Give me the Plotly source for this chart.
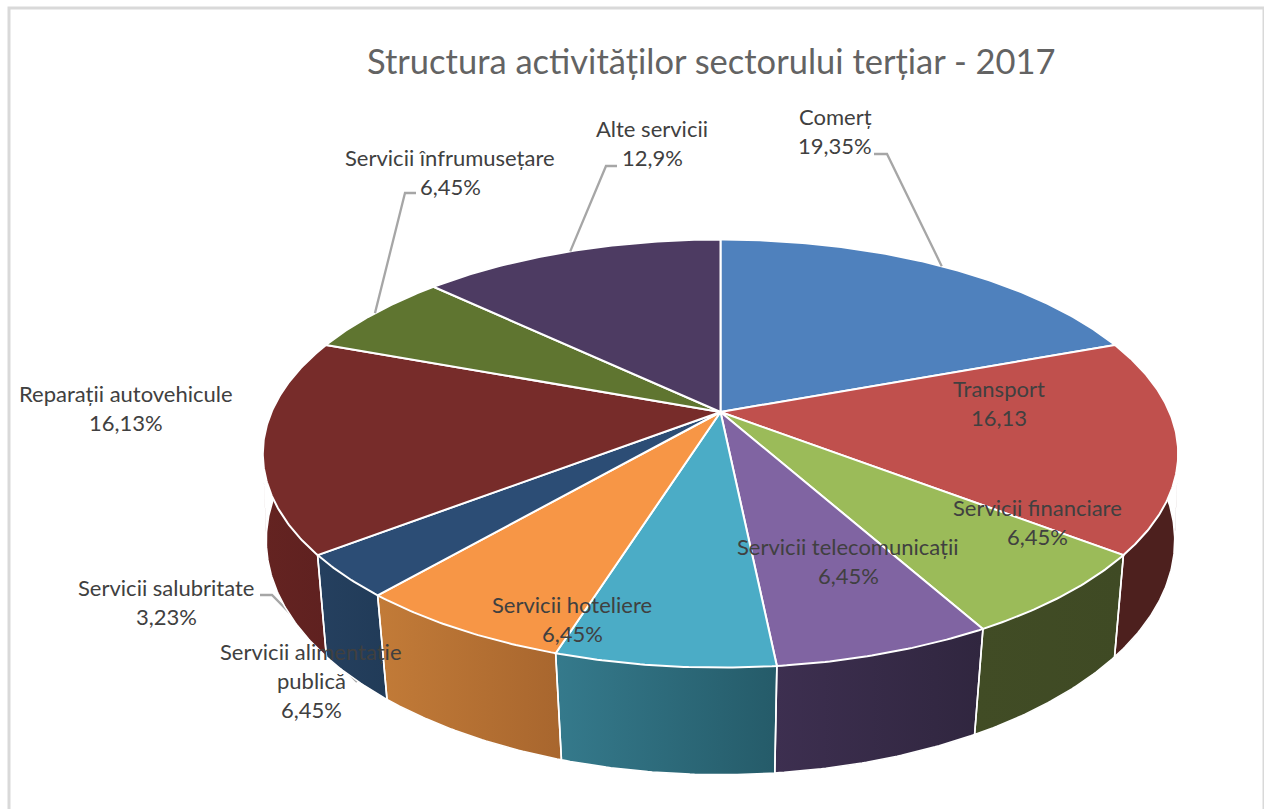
import math
import plotly.graph_objects as go

# ---- data ----
categories = ["Comerț", "Transport", "Servicii financiare", "Servicii telecomunicații",
              "Servicii hoteliere", "Servicii alimentație publică", "Servicii salubritate",
              "Reparații autovehicule", "Servicii înfrumusețare", "Alte servicii"]
values = [19.35, 16.13, 6.45, 6.45, 6.45, 6.45, 3.23, 16.13, 6.45, 12.9]
value_labels = ["19,35%", "16,13", "6,45%", "6,45%", "6,45%", "6,45%", "3,23%", "16,13%", "6,45%", "12,9%"]
title_text = "Structura activităților sectorului terțiar - 2017"

# ---- styles ----
top_colors = ["#4F81BD", "#C0504D", "#9BBB59", "#8064A2", "#4BACC6",
              "#F79646", "#2C4D75", "#772C2A", "#5F7530", "#4D3B62"]
wall_colors = [("#4D201E", "#4D201E"), ("#4D201E", "#4D201E"), ("#414C25", "#3F4A24"),
               ("#3D2F50", "#30263F"), ("#357A8C", "#255B69"), ("#C27B38", "#A8662E"),
               ("#25405F", "#213B58"), ("#642321", "#5F2120"), ("#642321", "#642321"),
               ("#2E2440", "#2E2440")]

label_pos = [(835, 116), (999, 388), (1037, 507), (848, 546), (572, 604),
             (311, 651), (166, 587), (126, 393), (450, 157), (652, 128)]
label_lines = [[c] for c in categories]
label_lines[5] = ["Servicii alimentație", "publică"]
LINE_H = 29.3
LABEL_SIZE = 22
TITLE_SIZE = 34.5
LABEL_FONT = "Lato"

# projection of the tilted pie: top face and bottom rim
CX, CY = 720.5, 412
A, B, K = 449, 206, 0.194
CY2, A2, B2, K2 = 501.6, 448, 228, 0.165


def top_pt(deg):
    t = math.radians(deg)
    yy = -math.cos(t)
    d = 1 - K * yy
    return CX + A * math.sin(t) / d, CY + B * yy / d


def bot_pt(deg):
    t = math.radians(deg)
    yy = -math.cos(t)
    d = 1 - K2 * yy
    return CX + A2 * math.sin(t) / d, CY2 + B2 * yy / d


def steps(a0, a1):
    n = max(2, int((a1 - a0) * 2))
    return [a0 + (a1 - a0) * i / n for i in range(n + 1)]


total = sum(values)
edges = [0]
for v in values:
    edges.append(edges[-1] + v / total * 360)
mids = [(edges[i] + edges[i + 1]) / 2 for i in range(len(values))]

fig = go.Figure()

# leader line going behind the walls
fig.add_trace(go.Scatter(x=[260, 272, 357], y=[595, 595, 682], mode="lines",
                         line=dict(color="#A6A6A6", width=2.3), hoverinfo="skip", showlegend=False))

# side walls: fill made of thin quads so the silhouette follows the rim-to-rim edges
for i in range(len(values)):
    angs = steps(edges[i], edges[i + 1])
    xs, ys = [], []
    for a0, a1 in zip(angs[:-1], angs[1:]):
        quad = [top_pt(a0), top_pt(a1), bot_pt(a1), bot_pt(a0), top_pt(a0)]
        xs += [p[0] for p in quad] + [None]
        ys += [p[1] for p in quad] + [None]
    fig.add_trace(go.Scatter(
        x=xs, y=ys, mode="lines", fill="toself", line=dict(color="rgba(0,0,0,0)", width=0),
        fillgradient=dict(type="horizontal",
                          colorscale=[[0, wall_colors[i][0]], [1, wall_colors[i][1]]]),
        hoverinfo="skip", showlegend=False))

# wall outlines: bottom rim and the vertical edges between slices
for i in range(len(values)):
    lo = [bot_pt(a) for a in steps(edges[i], edges[i + 1])]
    pts = [top_pt(edges[i])] + lo + [top_pt(edges[i + 1])]
    if 90 < mids[i] < 270:
        fig.add_trace(go.Scatter(x=[p[0] for p in pts], y=[p[1] for p in pts], mode="lines",
                                 line=dict(color="white", width=1.6), hoverinfo="skip", showlegend=False))

# top faces
for i in range(len(values)):
    up = [top_pt(a) for a in steps(edges[i], edges[i + 1])]
    pts = [(CX, CY)] + up + [(CX, CY)]
    fig.add_trace(go.Scatter(
        x=[p[0] for p in pts], y=[p[1] for p in pts], mode="lines", fill="toself",
        fillcolor=top_colors[i], line=dict(color="white", width=2),
        name=categories[i], text=value_labels[i], hoverinfo="name+text", showlegend=False))

# leader lines from the rim of the slices to the labels
leader_elbows = {0: [(874, 154), (887, 154)], 8: [(416, 193), (405, 193)], 9: [(617, 166), (606, 166)]}
for i, el in leader_elbows.items():
    p = top_pt(mids[i])
    xs = [e[0] for e in el] + [p[0]]
    ys = [e[1] for e in el] + [p[1]]
    fig.add_trace(go.Scatter(x=xs, y=ys, mode="lines", line=dict(color="#A6A6A6", width=2.3),
                             hoverinfo="skip", showlegend=False))

# text
annotations = []
for i in range(len(values)):
    lines = label_lines[i] + [value_labels[i]]
    x, y = label_pos[i]
    for j, line in enumerate(lines):
        annotations.append(dict(x=x, y=y + j * LINE_H, text=line, showarrow=False,
                                xanchor="center", yanchor="middle",
                                font=dict(family=LABEL_FONT, size=LABEL_SIZE, color="#404040")))
annotations.append(dict(x=711.5, y=60, text=title_text, showarrow=False, xanchor="center", yanchor="middle",
                        font=dict(family=LABEL_FONT, size=TITLE_SIZE, color="#636363")))

fig.update_layout(
    width=1264, height=809, margin=dict(l=0, r=0, t=0, b=0),
    paper_bgcolor="white", plot_bgcolor="white", showlegend=False,
    xaxis=dict(range=[0, 1264], visible=False, fixedrange=True),
    yaxis=dict(range=[809, 0], visible=False, fixedrange=True),
    annotations=annotations,
    shapes=[dict(type="rect", x0=9, y0=8, x1=1264, y1=815, line=dict(color="#D9D9D9", width=3),
                 fillcolor="rgba(0,0,0,0)", layer="below")],
)
fig.write_html("out.html", config={"displayModeBar": False},
               post_script="document.body.style.margin='0';document.body.style.overflow='hidden';")
